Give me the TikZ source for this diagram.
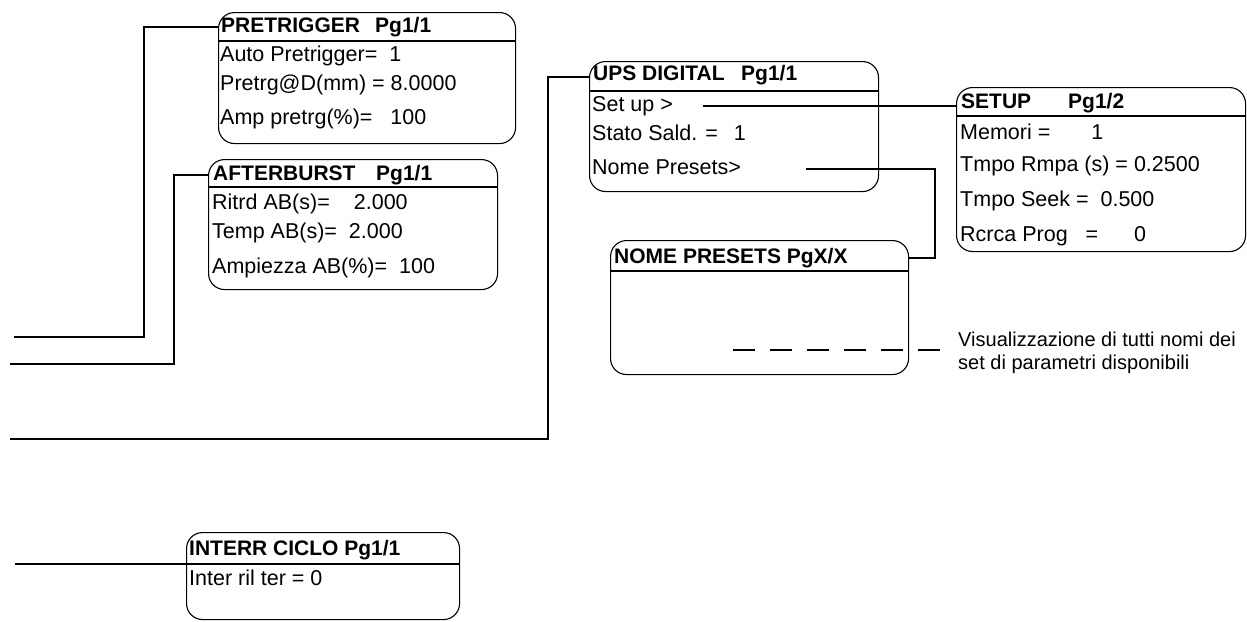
\documentclass[tikz,border=0pt]{standalone}
\usepackage{fontspec}
\setmainfont{Liberation Sans}
\usetikzlibrary{positioning}

\tikzset{
  panel/.style={draw, line width=1.1pt, rounded corners=16pt, anchor=north west, inner sep=0pt},
  title/.style={anchor=west, inner sep=0pt, text height=15pt, text depth=4pt, font=\fontsize{21}{23}\selectfont\bfseries},
  entry/.style={anchor=west, inner sep=0pt, text height=15pt, text depth=4pt, font=\fontsize{21.5}{23}\selectfont},
  note/.style={anchor=west, inner sep=0pt, align=left, font=\fontsize{20}{23}\selectfont},
  rule/.style={line width=1.8pt},
  link/.style={line width=1.8pt},
  guide/.style={line width=1.4pt, dash pattern=on 22pt off 15pt}
}

\begin{document}
\begin{tikzpicture}[x=1pt,y=-1pt]
\useasboundingbox (0,0) rectangle (1247,621);

% PRETRIGGER
\node[panel, minimum width=297pt, minimum height=131pt] (pretrig) at (218,12) {};
\node[title] (pretrig-t) at (221,27) {\makebox[154pt][l]{PRETRIGGER}Pg1/1};
\draw[rule] (pretrig.west |- 0,41) -- (pretrig.east |- 0,41);
\node[entry] (pretrig-1) at (220,56) {Auto Pretrigger=\ \ 1};
\node[entry] (pretrig-2) at (220,85) {Pretrg@D(mm) = 8.0000};
\node[entry] (pretrig-3) at (220,119) {Amp pretrg(\%)=\ \ \ 100};

% AFTERBURST
\node[panel, minimum width=289pt, minimum height=130pt] (after) at (208,159) {};
\node[title] (after-t) at (213,175) {\makebox[163pt][l]{AFTERBURST}Pg1/1};
\draw[rule] (after.west |- 0,187) -- (after.east |- 0,187);
\node[entry] (after-1) at (212,204) {Ritrd AB(s)=\hspace{24pt}2.000};
\node[entry] (after-2) at (212,233) {Temp AB(s)=\ \ 2.000};
\node[entry] (after-3) at (212,268) {Ampiezza AB(\%)=\ \ 100};

% UPS DIGITAL
\node[panel, minimum width=289pt, minimum height=130pt] (ups) at (589,61) {};
\node[title] (ups-t) at (593,75) {\makebox[148pt][l]{UPS DIGITAL}Pg1/1};
\draw[rule] (ups.west |- 0,91) -- (ups.east |- 0,91);
\node[entry] (ups-1) at (592,106) {Set up \textgreater};
\node[entry] (ups-2) at (592,135) {Stato Sald. =\hspace{16pt}1};
\node[entry] (ups-3) at (592,169) {Nome Presets\textgreater};

% SETUP
\node[panel, minimum width=289pt, minimum height=164pt] (setup) at (956,87) {};
\node[title] (setup-t) at (961,103) {\makebox[107pt][l]{SETUP}Pg1/2};
\draw[rule] (setup.west |- 0,116) -- (setup.east |- 0,116);
\node[entry] (setup-1) at (960,134) {Memori =\hspace{41pt}1};
\node[entry] (setup-2) at (960,166) {Tmpo Rmpa (s) = 0.2500};
\node[entry] (setup-3) at (960,201) {Tmpo Seek =\ \ 0.500};
\node[entry] (setup-4) at (960,236) {Rcrca Prog\ \ \ =\hspace{36pt}0};

% NOME PRESETS
\node[panel, minimum width=298pt, minimum height=134pt] (nome) at (610,240) {};
\node[title] (nome-t) at (614,258) {NOME PRESETS PgX/X};
\draw[rule] (nome.west |- 0,271) -- (nome.east |- 0,271);
\coordinate (list) at (733,350);
\node[note] (note) at (958,353) {Visualizzazione di tutti nomi dei\\set di parametri disponibili};

% INTERR CICLO
\node[panel, minimum width=273pt, minimum height=87pt] (intr) at (186,532) {};
\node[title] (intr-t) at (189,550) {INTERR CICLO Pg1/1};
\draw[rule] (intr.west |- 0,564) -- (intr.east |- 0,564);
\node[entry] (intr-1) at (189,580) {Inter ril ter = 0};

% ingressi a sinistra
\coordinate (in-pre) at (14,337);
\coordinate (in-after) at (10,364);
\coordinate (in-ups) at (10,439);
\coordinate (in-intr) at (15,564);

\draw[link] (pretrig.west |- pretrig-t) -- ++(-74,0) |- (in-pre);
\draw[link] (after.west |- after-t) -- ++(-34,0) |- (in-after);
\draw[link] (ups.west |- 0,77) -- ++(-41,0) |- (in-ups);
\draw[link] (in-intr) -- (intr.west |- in-intr);

% collegamenti tra pagine
\draw[link] ([xshift=30pt]ups-1.east) -- (setup.west |- ups-1.east);
\draw[link] ([xshift=65pt]ups-3.east) -| ([xshift=26pt]nome.east |- nome-t) -- (nome.east |- nome-t);
\draw[guide, shorten >=15pt] (list) -- (note.west |- list);
\end{tikzpicture}
\end{document}
